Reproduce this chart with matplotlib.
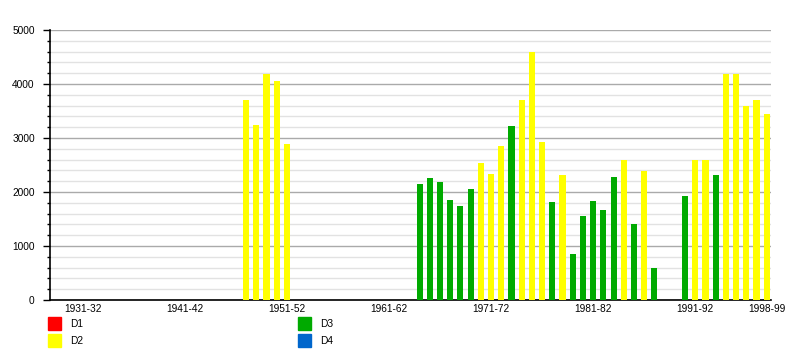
import matplotlib
matplotlib.use("Agg")
import matplotlib.pyplot as plt
from matplotlib.patches import Rectangle
from matplotlib.ticker import MultipleLocator

plt.rcParams['font.family'] = ['Liberation Sans', 'DejaVu Sans']

# seasons 1931-32 .. 1998-99
seasons = ["%d-%02d" % (y, (y + 1) % 100) for y in range(1931, 1999)]

# average attendance per season (None = no data)
attendance = [None] * 16 + [3700, 3240, 4180, 4060, 2890] + [None] * 12 + [
    2150, 2260, 2190, 1850, 1740, 2060, 2540, 2330, 2850, 3220,
    3700, 4590, 2930, 1820, 2320, 860, 1560, 1840, 1670, 2280,
    2590, 1400, 2390, 600, None, None, 1930, 2590, 2590, 2320,
    4180, 4180, 3590, 3700, 3440]

division = [None] * 16 + ["D2"] * 5 + [None] * 12 + [
    "D3", "D3", "D3", "D3", "D3", "D3", "D2", "D2", "D2", "D3",
    "D2", "D2", "D2", "D3", "D2", "D3", "D3", "D3", "D3", "D3",
    "D2", "D3", "D2", "D3", None, None, "D3", "D2", "D2", "D3",
    "D2", "D2", "D2", "D2", "D2"]

div_names = ["D1", "D2", "D3", "D4"]
div_colors = {"D1": "#ff0000", "D2": "#ffff00", "D3": "#00aa00", "D4": "#0066cc"}

tick_labels = ["1931-32", "1941-42", "1951-52", "1961-62",
               "1971-72", "1981-82", "1991-92", "1998-99"]

fig = plt.figure(figsize=(8, 3.5), dpi=100)
ax = fig.add_axes([50 / 800, 1 - 300 / 350, 721 / 800, 270 / 350])

xs = [i for i, v in enumerate(attendance) if v is not None]
hs = [attendance[i] for i in xs]
cs = [div_colors[division[i]] for i in xs]
ax.bar(xs, hs, width=0.6, color=cs, zorder=3)

ax.set_ylim(0, 5000)
ax.set_xlim(-3.2, 67.42)
ax.yaxis.set_major_locator(MultipleLocator(1000))
ax.yaxis.set_minor_locator(MultipleLocator(200))
ax.grid(axis='y', which='major', color='#aaaaaa', linewidth=1, zorder=0)
ax.grid(axis='y', which='minor', color='#e2e2e2', linewidth=1, zorder=0)
ax.grid(axis='x', visible=False)

ax.set_xticks([seasons.index(s) for s in tick_labels])
ax.set_xticklabels(tick_labels)
ax.tick_params(axis='x', length=0, pad=3, labelsize=7.3)
ax.tick_params(axis='y', which='major', length=5, width=1, labelsize=7.3, pad=6)
ax.tick_params(axis='y', which='minor', length=2.5, width=1)

for side in ['top', 'right']:
    ax.spines[side].set_visible(False)
ax.spines['left'].set_linewidth(1.2)
ax.spines['bottom'].set_linewidth(1.2)

# legend below the chart
legend_pos = {"D1": (48, 317), "D2": (48, 334), "D3": (298, 317), "D4": (298, 334)}
for name in div_names:
    px, py = legend_pos[name]
    fig.add_artist(Rectangle((px / 800, 1 - (py + 13) / 350), 13 / 800, 13 / 350,
                             transform=fig.transFigure, color=div_colors[name]))
    fig.text((px + 22) / 800, 1 - (py + 7) / 350, name, fontsize=7.3, va='center')

fig.savefig("out.png", dpi=100)
